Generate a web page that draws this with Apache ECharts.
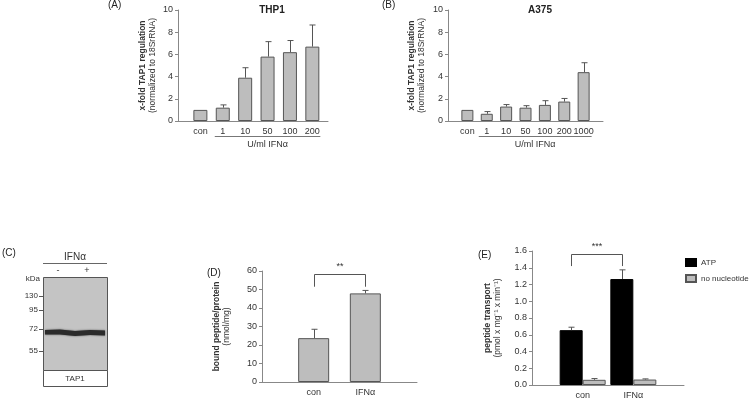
<!DOCTYPE html>
<html><head><meta charset="utf-8">
<script src="https://cdn.jsdelivr.net/npm/echarts@6/dist/echarts.min.js"></script>
<style>html,body{margin:0;padding:0;background:#fff}#c{width:750px;height:400px}</style>
</head><body><div id="c"></div>
<script>
// ---------- DATA ----------
const catsA = ['con', '1', '10', '50', '100', '200'];
const valsA = [1.0, 1.2, 3.9, 5.8, 6.2, 6.7];
const errA  = [0, 0.25, 0.9, 1.35, 1.05, 1.95];

const catsB = ['con', '1', '10', '50', '100', '200', '1000'];
const valsB = [1.0, 0.65, 1.3, 1.2, 1.45, 1.75, 4.4];
const errB  = [0, 0.2, 0.18, 0.18, 0.38, 0.28, 0.85];

const catsD = ['con', 'IFNα'];
const valsD = [23.7, 47.9];
const errD  = [4.8, 1.6];

const catsE = ['con', 'IFNα'];
const atpE    = [0.655, 1.265];
const atpErrE = [0.035, 0.11];
const noNucE    = [0.062, 0.065];
const noNucErrE = [0.015, 0.008];

const kdaLabels = ['130', '95', '72', '55'];

// ---------- STYLE ----------
const FONT = 'Liberation Sans, Arial, sans-serif';
const TXT = '#333';
const AX = '#888';
const GRAY = '#bdbdbd';
const EDGE = '#555';

function xAxisVal(grid, cats, min, max) {
  return {
    type: 'value', gridIndex: grid, min: min, max: max, interval: 1,
    axisLine: {show: true, onZero: false, lineStyle: {color: AX}},
    axisTick: {show: false}, splitLine: {show: false},
    axisLabel: {
      color: TXT, fontFamily: FONT, fontSize: 9, margin: 6, showMaxLabel: false, showMinLabel: false,
      formatter: v => (Number.isInteger(v) && cats[v] !== undefined) ? cats[v] : ''
    }
  };
}
function yAxisVal(grid, max, interval, name1, name2, gap, fmt) {
  return {
    type: 'value', gridIndex: grid, min: 0, max: max, interval: interval,
    axisLine: {show: true, onZero: false, lineStyle: {color: AX}},
    axisTick: {show: true, length: 3, lineStyle: {color: AX}},
    splitLine: {show: false},
    axisLabel: {color: TXT, fontFamily: FONT, fontSize: 9, margin: 5, formatter: fmt},
    name: '{b|' + name1 + '}\n{n|' + name2 + '}',
    nameLocation: 'middle', nameRotate: 90, nameGap: gap,
    nameTextStyle: {
      fontFamily: FONT, color: TXT, lineHeight: 10,
      rich: {
        b: {fontWeight: 'bold', fontSize: 8.5, fontFamily: FONT, color: TXT, lineHeight: 10},
        n: {fontSize: 8.5, fontFamily: FONT, color: TXT, lineHeight: 10}
      }
    }
  };
}
function barSeries(xi, vals, color, name, barWidth) {
  return {
    type: 'bar', name: name, xAxisIndex: xi, yAxisIndex: xi,
    data: vals.map((v, i) => [i, v]), barWidth: barWidth, barGap: '0%',
    itemStyle: {color: color, borderColor: EDGE, borderWidth: 1},
    silent: true
  };
}
function errSeries(xi, vals, errs, offsetPx, cap) {
  return {
    type: 'custom', xAxisIndex: xi, yAxisIndex: xi, z: 5, silent: true,
    data: vals.map((v, i) => [i, v, v + errs[i]]),
    renderItem(params, api) {
      const x = api.value(0), lo = api.value(1), hi = api.value(2);
      if (!(hi > lo)) return null;
      const p1 = api.coord([x, lo]), p2 = api.coord([x, hi]);
      const cx = Math.round(p1[0] + offsetPx) + 0.5;
      const st = {stroke: '#555', lineWidth: 1};
      return {type: 'group', children: [
        {type: 'line', shape: {x1: cx, y1: p1[1], x2: cx, y2: p2[1]}, style: st},
        {type: 'line', shape: {x1: cx - cap, y1: p2[1], x2: cx + cap, y2: p2[1]}, style: st}
      ]};
    }
  };
}
function bracketSeries(xi, yTop, yLeg, offsetPx, label) {
  return {
    type: 'custom', xAxisIndex: xi, yAxisIndex: xi, z: 6, silent: true,
    data: [[0, 1, yTop, yLeg]],
    renderItem(params, api) {
      const a = api.coord([api.value(0), api.value(2)]);
      const b = api.coord([api.value(1), api.value(2)]);
      const la = api.coord([api.value(0), api.value(3)]);
      const xa = Math.round(a[0] + offsetPx) + 0.5, xb = Math.round(b[0] + offsetPx) + 0.5;
      const y = Math.round(a[1]) + 0.5;
      const st = {stroke: '#555', lineWidth: 1, fill: null};
      return {type: 'group', children: [
        {type: 'polyline', shape: {points: [[xa, la[1]], [xa, y], [xb, y], [xb, la[1]]]}, style: st},
        {type: 'text', style: {text: label, x: (xa + xb) / 2, y: y - 3, align: 'center', verticalAlign: 'bottom',
          fontFamily: FONT, fontSize: 9, fill: TXT}}
      ]};
    }
  };
}

const chart = echarts.init(document.getElementById('c'), null, {renderer: 'canvas'});

const option = {
  animation: false,
  backgroundColor: '#fff',
  textStyle: {fontFamily: FONT},
  title: [
    {text: 'THP1', left: 267, top: 0, textAlign: 'center',
     textStyle: {fontFamily: FONT, fontSize: 10, fontWeight: 'bold', color: '#222'}},
    {text: 'A375', left: 535, top: 0, textAlign: 'center',
     textStyle: {fontFamily: FONT, fontSize: 10, fontWeight: 'bold', color: '#222'}}
  ],
  grid: [
    {left: 178, top: 10, width: 150, height: 111},
    {left: 448, top: 10, width: 155, height: 111},
    {left: 262, top: 271, width: 155, height: 111},
    {left: 532, top: 251, width: 152, height: 136}
  ],
  xAxis: [
    xAxisVal(0, catsA, -1, 5.7),
    xAxisVal(1, catsB, -1, 7),
    xAxisVal(2, catsD, -1, 2),
    xAxisVal(3, catsE, -1, 2)
  ],
  yAxis: [
    yAxisVal(0, 10, 2, 'x-fold TAP1 regulation', '(normalized to 18SrRNA)', 20),
    yAxisVal(1, 10, 2, 'x-fold TAP1 regulation', '(normalized to 18SrRNA)', 21),
    yAxisVal(2, 60, 10, 'bound peptide/protein', '(nmol/mg)', 30),
    yAxisVal(3, 1.6, 0.2, 'peptide transport', '(pmol x mg⁻¹ x min⁻¹)', 29, v => v.toFixed(1))
  ],
  legend: {
    left: 680, top: 253, orient: 'vertical', itemWidth: 10, itemHeight: 7, itemGap: 7,
    icon: 'rect', data: ['ATP', 'no nucleotide'],
    textStyle: {fontFamily: FONT, fontSize: 8, color: TXT}
  },
  series: [
    barSeries(0, valsA, GRAY, 'A', 14),
    errSeries(0, valsA, errA, 0, 3),
    barSeries(1, valsB, GRAY, 'B', 12),
    errSeries(1, valsB, errB, 0, 3),
    barSeries(2, valsD, GRAY, 'D', 31),
    errSeries(2, valsD, errD, 0, 3),
    bracketSeries(2, 58.2, 51.5, 0, '**'),
    {type: 'bar', name: 'ATP', xAxisIndex: 3, yAxisIndex: 3, data: atpE.map((v, i) => [i, v]),
     barWidth: 23, barGap: '0%', itemStyle: {color: '#000', borderColor: '#000', borderWidth: 1}},
    {type: 'bar', name: 'no nucleotide', xAxisIndex: 3, yAxisIndex: 3, data: noNucE.map((v, i) => [i, v]),
     barWidth: 23, barGap: '0%', itemStyle: {color: GRAY, borderColor: EDGE, borderWidth: 1}},
    errSeries(3, atpE, atpErrE, -11.5, 3),
    errSeries(3, noNucE, noNucErrE, 11.5, 3),
    bracketSeries(3, 1.565, 1.42, -11.5, '***')
  ]
};
chart.setOption(option);

// ---------- annotation graphics ----------
function underline(gridIdx, cats, label) {
  const p1 = chart.convertToPixel({xAxisIndex: gridIdx}, 1);
  const p2 = chart.convertToPixel({xAxisIndex: gridIdx}, cats.length - 1);
  const y0 = option.grid[gridIdx].top + option.grid[gridIdx].height;
  return [
    {type: 'line', shape: {x1: p1 - 8, y1: y0 + 15.5, x2: p2 + 8, y2: y0 + 15.5}, style: {stroke: '#777', lineWidth: 1}},
    {type: 'text', style: {text: label, x: (p1 + p2) / 2, y: y0 + 24, align: 'center', verticalAlign: 'middle',
      fontFamily: FONT, fontSize: 9, fill: TXT}}
  ];
}
const panelLetter = (t, x, y) => ({type: 'text', style: {text: t, x: x, y: y, fontFamily: FONT, fontSize: 10, fill: '#222', verticalAlign: 'middle'}});

const blotTop = 277, blotLeft = 43, blotW = 64, blotH = 93;
const kdaY = [296, 310, 329, 351];
const blot = [
  {type: 'text', style: {text: 'IFNα', x: 75, y: 257, align: 'center', verticalAlign: 'middle', fontFamily: FONT, fontSize: 10, fill: TXT}},
  {type: 'line', shape: {x1: 43, y1: 263.5, x2: 107, y2: 263.5}, style: {stroke: '#666', lineWidth: 1}},
  {type: 'text', style: {text: '-', x: 58, y: 271, align: 'center', verticalAlign: 'middle', fontFamily: FONT, fontSize: 9, fill: TXT}},
  {type: 'text', style: {text: '+', x: 87, y: 271, align: 'center', verticalAlign: 'middle', fontFamily: FONT, fontSize: 9, fill: TXT}},
  {type: 'rect', shape: {x: blotLeft + 0.5, y: blotTop + 0.5, width: blotW, height: blotH}, style: {fill: '#c4c4c4', stroke: '#555', lineWidth: 1}},
  {type: 'rect', shape: {x: blotLeft + 0.5, y: blotTop + blotH + 0.5, width: blotW, height: 16}, style: {fill: '#fff', stroke: '#555', lineWidth: 1}},
  {type: 'text', style: {text: 'TAP1', x: 75, y: blotTop + blotH + 8.5, align: 'center', verticalAlign: 'middle', fontFamily: FONT, fontSize: 8, fill: TXT}},
  {type: 'text', style: {text: 'kDa', x: 40, y: 279, align: 'right', verticalAlign: 'middle', fontFamily: FONT, fontSize: 8, fill: TXT}},
  {type: 'polygon', shape: {points: [[45, 330], [60, 329.5], [75, 331], [90, 330], [105, 330.5], [105, 335.5], [90, 335], [75, 336], [60, 334.5], [45, 334.5]]},
   style: {fill: '#2b2b2b', shadowBlur: 2, shadowColor: 'rgba(0,0,0,0.6)'}}
];
kdaLabels.forEach((t, i) => {
  blot.push({type: 'text', style: {text: t, x: 38, y: kdaY[i], align: 'right', verticalAlign: 'middle', fontFamily: FONT, fontSize: 8, fill: TXT}});
  blot.push({type: 'line', shape: {x1: 39, y1: kdaY[i] + 0.5, x2: 43, y2: kdaY[i] + 0.5}, style: {stroke: '#555', lineWidth: 1}});
});

chart.setOption({
  graphic: [].concat(
    underline(0, catsA, 'U/ml IFNα'),
    underline(1, catsB, 'U/ml IFNα'),
    [panelLetter('(A)', 108, 5), panelLetter('(B)', 382, 5), panelLetter('(C)', 2, 253),
     panelLetter('(D)', 207, 273), panelLetter('(E)', 478, 255)],
    blot
  )
});
</script>
</body></html>
